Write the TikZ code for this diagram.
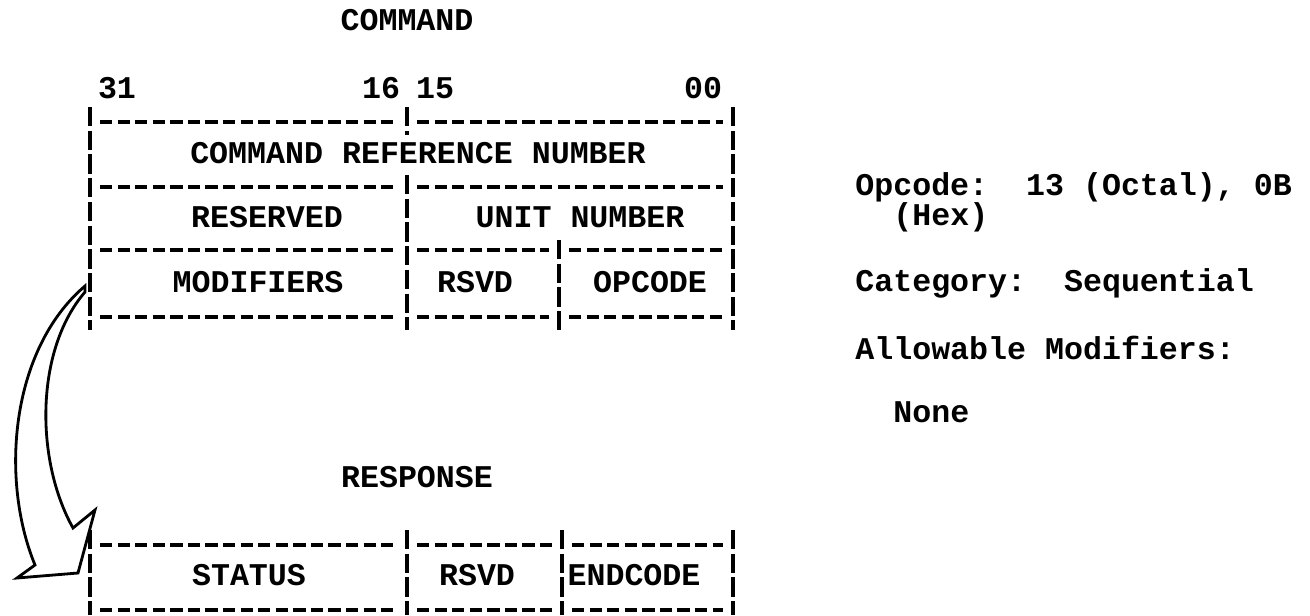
\documentclass[tikz,border=0pt]{standalone}
\usepackage{fontspec}
\setmonofont{Liberation Mono}
\begin{document}
\begin{tikzpicture}[x=0.02cm,y=-0.02cm,font=\ttfamily\bfseries\fontsize{18}{20}\selectfont,
		hline/.style={line width=2pt,dash pattern=on 7pt off 3pt},
		vline/.style={line width=1.8pt,dash pattern=on 11pt off 2.5pt},
		txt/.style={inner sep=0pt}]
	\useasboundingbox (0,0) rectangle (1310,615);
	% command block
	\node[txt] (cmdtitle) at (407,20) {COMMAND};
	\node[txt] (bit31) at (117,88) {31};
	\node[txt] (bit16) at (381,88) {16};
	\node[txt] (bit15) at (435,88) {15};
	\node[txt] (bit00) at (703,88) {00};
	\foreach \y in {122,187} {
		\draw[hline] (100,\y)--(397,\y);
		\draw[hline] (417,\y)--(723,\y);
	}
	\foreach \y in {250,317} {
		\draw[hline] (100,\y)--(397,\y);
		\draw[hline] (417,\y)--(549,\y);
		\draw[hline] (569,\y)--(723,\y);
	}
	\draw[vline] (90,107)--(90,330);
	\draw[vline] (733,107)--(733,330);
	\draw[vline] (407,107)--(407,135);
	\draw[vline] (407,175)--(407,330);
	\draw[vline] (559,240)--(559,330);
	\node[txt] (refnum) at (418,153) {COMMAND REFERENCE NUMBER};
	\node[txt] (reserved) at (267,217) {RESERVED};
	\node[txt] (unitnum) at (580,217) {UNIT NUMBER};
	\node[txt] (modifiers) at (258,282) {MODIFIERS};
	\node[txt] (rsvdcmd) at (475,282) {RSVD};
	\node[txt] (opcode) at (650,282) {OPCODE};
	% response block
	\node[txt] (resptitle) at (417,477) {RESPONSE};
	\foreach \y in {545,610} {
		\draw[hline] (100,\y)--(397,\y);
		\draw[hline] (417,\y)--(552,\y);
		\draw[hline] (572,\y)--(723,\y);
	}
	\foreach \x in {90,407,562,733}
		\draw[vline] (\x,530)--(\x,615);
	\node[txt] (status) at (249,575) {STATUS};
	\node[txt] (rsvdresp) at (477,575) {RSVD};
	\node[txt] (endcode) at (634,575) {ENDCODE};
	% hollow arrow
	\draw[line width=1.6pt,line join=miter] (85,286) .. controls (10,350) and (0,480) .. (35,565)
		-- (17,578) -- (78,573) -- (95,510) -- (73,528)
		.. controls (35,460) and (35,350) .. (85,292) -- cycle;
	% notes
	\node[txt,anchor=west] (opinfo) at (855,187) {Opcode:\ \ 13 (Octal), 0B};
	\node[txt,anchor=west] (hex) at (893,217) {(Hex)};
	\node[txt,anchor=west] (category) at (855,283) {Category:\ \ Sequential};
	\node[txt,anchor=west] (allowable) at (855,348) {Allowable Modifiers:};
	\node[txt,anchor=west] (none) at (893,412) {None};
\end{tikzpicture}
\end{document}
